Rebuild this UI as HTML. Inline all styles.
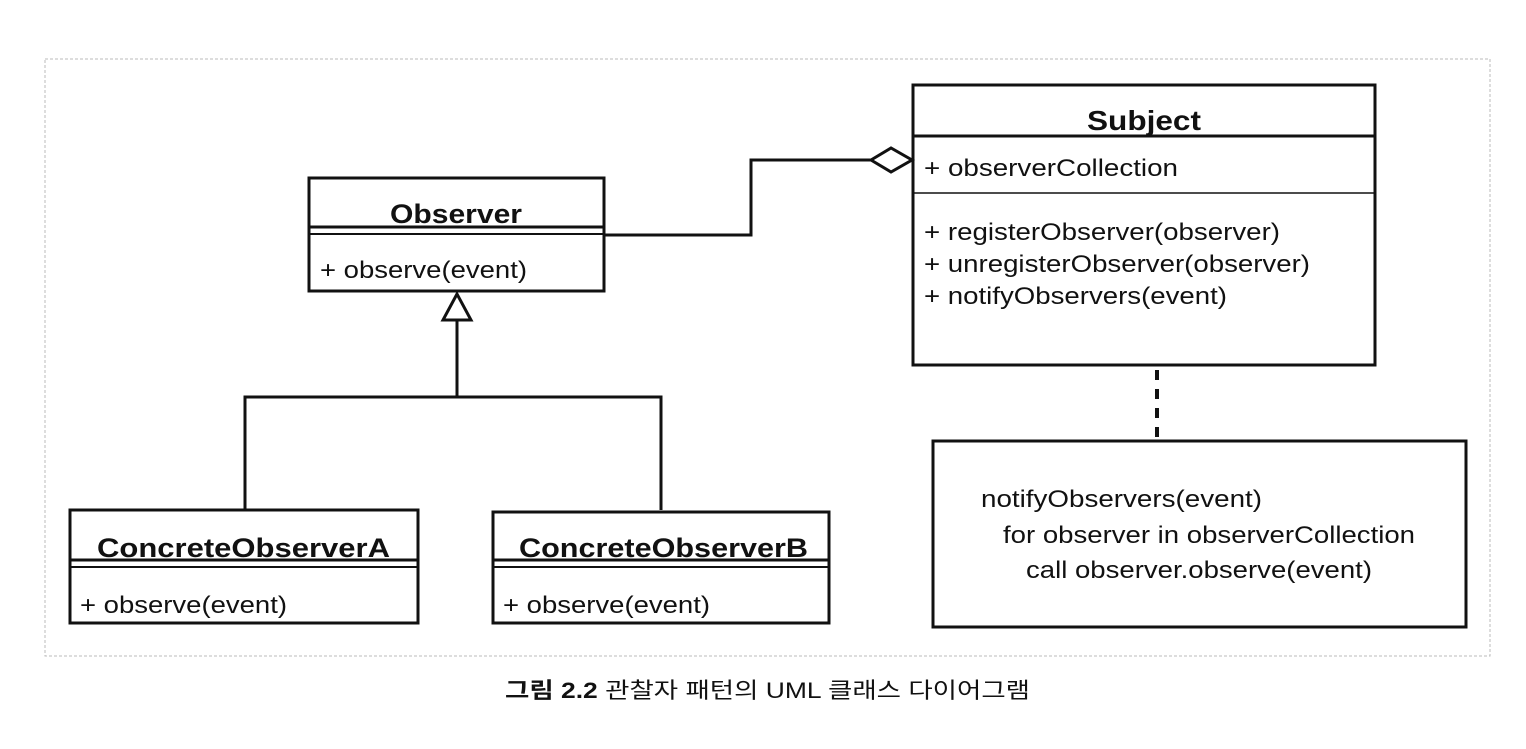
<!DOCTYPE html>
<html><head><meta charset="utf-8"><style>
html,body{margin:0;padding:0;background:#fff;}
body{width:1526px;height:744px;overflow:hidden;}
svg text{font-family:"Liberation Sans",Arial,sans-serif;fill:#111;}
</style></head><body>
<svg width="1526" height="744" viewBox="0 0 1526 744" xmlns="http://www.w3.org/2000/svg">
<rect x="45" y="59" width="1445" height="597" fill="none" stroke="#bbb" stroke-width="1" stroke-dasharray="3,2"/>
<g stroke="#111" fill="none" stroke-width="3">
<rect x="309" y="178" width="295" height="113" fill="#fff"/>
<line x1="309" y1="227" x2="604" y2="227"/>
<line x1="309" y1="234" x2="604" y2="234" stroke-width="2"/>
<rect x="913" y="85" width="462" height="280" fill="#fff"/>
<line x1="913" y1="136" x2="1375" y2="136"/>
<line x1="913" y1="193" x2="1375" y2="193" stroke-width="1.5"/>
<polyline points="604,235 751,235 751,160 871,160"/>
<polygon points="871,160 891,148 912,160 891,172" fill="#fff"/>
<polyline points="245,510 245,397 661,397 661,510"/>
<line x1="457" y1="397" x2="457" y2="320"/>
<polygon points="457,294 443,320 471,320" fill="#fff"/>
<rect x="70" y="510" width="348" height="113" fill="#fff"/>
<line x1="70" y1="560" x2="418" y2="560"/>
<line x1="70" y1="567" x2="418" y2="567" stroke-width="2"/>
<rect x="493" y="512" width="336" height="111" fill="#fff"/>
<line x1="493" y1="560" x2="829" y2="560"/>
<line x1="493" y1="567" x2="829" y2="567" stroke-width="2"/>
<line x1="1157" y1="370" x2="1157" y2="441" stroke-width="4" stroke-dasharray="10,9"/>
<rect x="933" y="441" width="533" height="186" fill="#fff"/>
</g>
<g lengthAdjust="spacingAndGlyphs">
<text x="390" y="223" font-size="27" font-weight="bold" textLength="132" lengthAdjust="spacingAndGlyphs">Observer</text>
<text x="320" y="278" font-size="24" textLength="207" lengthAdjust="spacingAndGlyphs">+ observe(event)</text>
<text x="1087" y="130" font-size="28" font-weight="bold" textLength="114" lengthAdjust="spacingAndGlyphs">Subject</text>
<text x="924" y="176" font-size="24" textLength="254" lengthAdjust="spacingAndGlyphs">+ observerCollection</text>
<text x="924" y="240" font-size="24" textLength="356" lengthAdjust="spacingAndGlyphs">+ registerObserver(observer)</text>
<text x="924" y="272" font-size="24" textLength="386" lengthAdjust="spacingAndGlyphs">+ unregisterObserver(observer)</text>
<text x="924" y="304" font-size="24" textLength="303" lengthAdjust="spacingAndGlyphs">+ notifyObservers(event)</text>
<text x="97" y="557" font-size="27" font-weight="bold" textLength="293" lengthAdjust="spacingAndGlyphs">ConcreteObserverA</text>
<text x="80" y="613" font-size="24" textLength="207" lengthAdjust="spacingAndGlyphs">+ observe(event)</text>
<text x="519" y="557" font-size="27" font-weight="bold" textLength="289" lengthAdjust="spacingAndGlyphs">ConcreteObserverB</text>
<text x="503" y="613" font-size="24" textLength="207" lengthAdjust="spacingAndGlyphs">+ observe(event)</text>
<text x="981" y="507" font-size="24" textLength="281" lengthAdjust="spacingAndGlyphs">notifyObservers(event)</text>
<text x="1003" y="543" font-size="24" textLength="412" lengthAdjust="spacingAndGlyphs">for observer in observerCollection</text>
<text x="1026" y="578" font-size="24" textLength="346" lengthAdjust="spacingAndGlyphs">call observer.observe(event)</text>
<text x="505" y="698" font-size="22" textLength="525" lengthAdjust="spacingAndGlyphs" style='font-family:"Liberation Sans","Noto Sans CJK KR",sans-serif'><tspan font-weight="bold">그림 2.2</tspan> 관찰자 패턴의 UML 클래스 다이어그램</text>
</g>
</svg>
</body></html>
